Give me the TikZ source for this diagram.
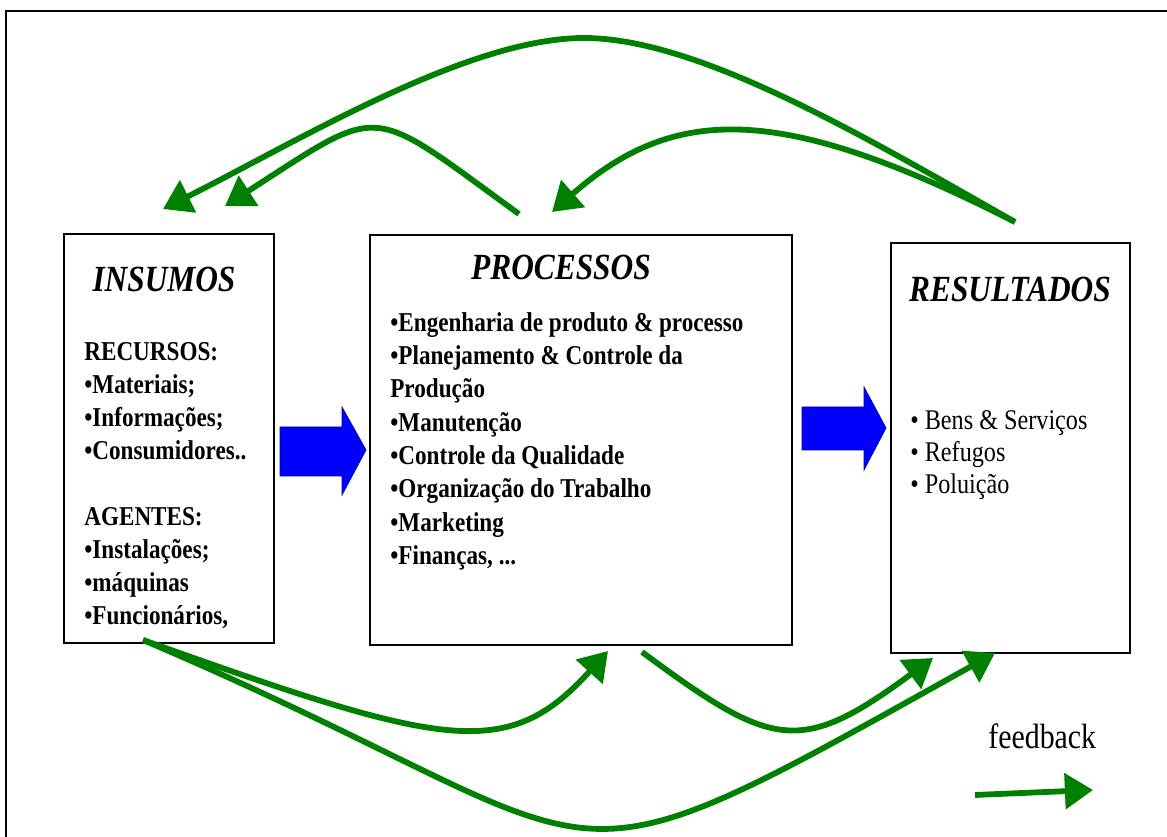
\documentclass[tikz,border=0pt]{standalone}
\usepackage{fontspec}
\setmainfont[FakeStretch=0.85]{Liberation Serif}
\usetikzlibrary{arrows.meta}
\definecolor{fbgreen}{RGB}{0,128,0}
\definecolor{flowblue}{RGB}{0,0,255}
\tikzset{
  box/.style={draw, line width=1.1pt, inner sep=0pt, outer sep=0pt, anchor=north west},
  ttl/.style={inner sep=0pt, anchor=base, font=\fontsize{21}{25}\selectfont\bfseries\itshape},
  itm/.style={inner sep=0pt, anchor=base west, font=\fontsize{15.5}{18.7}\selectfont\bfseries},
  lbl/.style={inner sep=0pt, anchor=base west, font=\fontsize{16.2}{19.4}\selectfont},
  fback/.style={draw=fbgreen, line width=3.3pt, -{Triangle[length=16pt,width=20pt]}},
  flow/.style={fill=flowblue, draw=blue!60!black, line width=0.4pt},
}

\begin{document}
\begin{tikzpicture}[x=0.02cm, y=-0.02cm]
    \useasboundingbox (0,0) rectangle (1167,837);
    % frame
    \draw[line width=1.3pt] (6,837) -- (6,11) -- (1167,11);

    % boxes
    \node[box, minimum width=4.2cm, minimum height=8.18cm] (ins) at (64,234) {};
    \node[box, minimum width=8.44cm, minimum height=8.2cm] (pro) at (370,235) {};
    \node[box, minimum width=4.78cm, minimum height=8.2cm] (res) at (891,243) {};

    % insumos
    \node[ttl] (insT) at (164,292) {INSUMOS};
    \node[itm] (i1) at (84,361) {RECURSOS:};
    \node[itm] (i2) at (84,394) {•Materiais;};
    \node[itm] (i3) at (84,427) {•Informações;};
    \node[itm] (i4) at (84,460) {•Consumidores..};
    \node[itm] (i5) at (84,526) {AGENTES:};
    \node[itm] (i6) at (84,559) {•Instalações;};
    \node[itm] (i7) at (84,592) {•máquinas};
    \node[itm] (i8) at (84,625) {•Funcionários,};

    % processos
    \node[ttl] (proT) at (561,280) {PROCESSOS};
    \node[itm] (p1) at (390,332) {•Engenharia de produto \& processo};
    \node[itm] (p2) at (390,365) {•Planejamento \& Controle da};
    \node[itm] (p3) at (390,398) {Produção};
    \node[itm] (p4) at (390,432) {•Manutenção};
    \node[itm] (p5) at (390,465) {•Controle da Qualidade};
    \node[itm] (p6) at (390,498) {•Organização do Trabalho};
    \node[itm] (p7) at (390,532) {•Marketing};
    \node[itm] (p8) at (390,565) {•Finanças, ...};

    % resultados
    \node[ttl] (resT) at (1010,302) {RESULTADOS};
    \node[lbl] (r1) at (910,430) {• Bens \& Serviços};
    \node[lbl] (r2) at (910,462) {• Refugos};
    \node[lbl] (r3) at (910,494) {• Poluição};

    % blue flow arrows
    \draw[flow] (280,427) -- (342,427) -- (342,407) -- (366,450) -- (342,495) -- (342,476) -- (280,476) -- cycle;
    \draw[flow] (802,407) -- (864,407) -- (864,387) -- (886,428) -- (864,470) -- (864,450) -- (802,450) -- cycle;

    % feedback ends
    \coordinate (resUp) at (1015,222);
    \coordinate (proUp) at (519,214);
    \coordinate (insInA) at (163,209);
    \coordinate (insInB) at (225,206);
    \coordinate (proIn) at (552,212);
    \coordinate (insDn) at (143,640);
    \coordinate (proInDn) at (608,651);
    \coordinate (proDn) at (642,652);
    \coordinate (resInA) at (933,658);
    \coordinate (resInB) at (995,653);

    % feedback arcs
    \draw[fback] (resUp) .. controls (870,140) and (700,38) .. (584,38)
        .. controls (468,38) and (300,140) .. (insInA);
    \draw[fback] (proUp) .. controls (366,103) and (385,103) .. (insInB);
    \draw[fback] (resUp) .. controls (778,101) and (673,106) .. (proIn);
    \draw[fback] (insDn) .. controls (443,747) and (507,763) .. (proInDn);
    \draw[fback] (insDn) .. controls (646,854) and (522,917) .. (resInB);
    \draw[fback] (proDn) .. controls (773,749) and (800,756) .. (resInA);

    % legend
    \node[inner sep=0pt, anchor=base west, font=\fontsize{20}{24}\selectfont] (fbT) at (988,748) {feedback};
    \coordinate (legA) at (975,795);
    \coordinate (legB) at (1093,790);
    \draw[fback] (legA) -- (legB);
\end{tikzpicture}
\end{document}
